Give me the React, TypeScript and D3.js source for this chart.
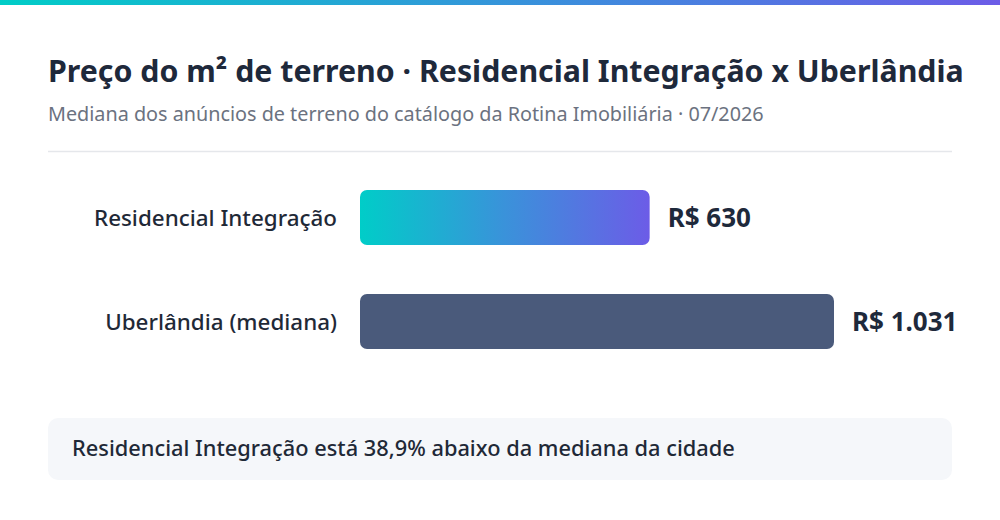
import * as d3 from 'd3';
import React from 'react';

// data
const categories = ['Residencial Integração', 'Uberlândia (mediana)'];
const values = [630, 1031];
const valueLabels = ['R$ 630', 'R$ 1.031'];
const title = 'Preço do m² de terreno · Residencial Integração x Uberlândia';
const subtitle = 'Mediana dos anúncios de terreno do catálogo da Rotina Imobiliária · 07/2026';
const note = 'Residencial Integração está 38,9% abaixo da mediana da cidade';

const W = 1000;
const H = 520;
const font = '"Noto Sans", "Open Sans", sans-serif';

export default function App() {
	const x = d3.scaleLinear()
		.domain([0, d3.max(values) as number])
		.range([360, 834]);

	// bar centres
	const y = d3.scalePoint()
		.domain(categories)
		.range([217.5, 321.5]);

	const barH = 55;

	return (
		<svg width={W} height={H} style={{ position: 'absolute', left: 0, top: 0, background: '#fff', fontFamily: font }}>
			<defs>
				<linearGradient id="topGrad" x1="0" x2="1" y1="0" y2="0">
					<stop offset="0%" stopColor="#00cdc7" />
					<stop offset="55%" stopColor="#3a8fdc" />
					<stop offset="100%" stopColor="#6c5ce7" />
				</linearGradient>
				<linearGradient id="barGrad" x1="0" x2="1" y1="0" y2="0">
					<stop offset="0%" stopColor="#00cdc8" />
					<stop offset="50%" stopColor="#3a92da" />
					<stop offset="100%" stopColor="#6c5ce7" />
				</linearGradient>
			</defs>

			<rect x={0} y={0} width={W} height={5} fill="url(#topGrad)" />

			<text x={48} y={82} fontSize={30.3} fontWeight={700} fill="#1e293b">{title}</text>
			<text x={48} y={121} fontSize={19.8} fill="#6b7280">{subtitle}</text>
			<line x1={48} x2={952} y1={151.5} y2={151.5} stroke="#e5e7eb" strokeWidth={1.5} />

			{categories.map((c, i) => {
				const cy = y(c) as number;
				const top = cy - barH / 2;
				return (
					<g key={c}>
						<text x={337} y={cy + 1} dy="0.35em" textAnchor="end" fontSize={22.4} fontWeight={500} fill="#1f2937">{c}</text>
						<rect x={x(0)} y={top} width={x(values[i]) - x(0)} height={barH} rx={7}
							fill={i === 0 ? 'url(#barGrad)' : '#4a5a7b'} />
						<text x={x(values[i]) + 18} y={cy} dy="0.35em" fontSize={26} fontWeight={700} fill="#1e293b">{valueLabels[i]}</text>
					</g>
				);
			})}

			<rect x={48} y={418} width={904} height={62} rx={10} fill="#f5f7fa" />
			<text x={72} y={456} fontSize={21.8} fontWeight={500} fill="#1f2937">{note}</text>
		</svg>
	);
}
